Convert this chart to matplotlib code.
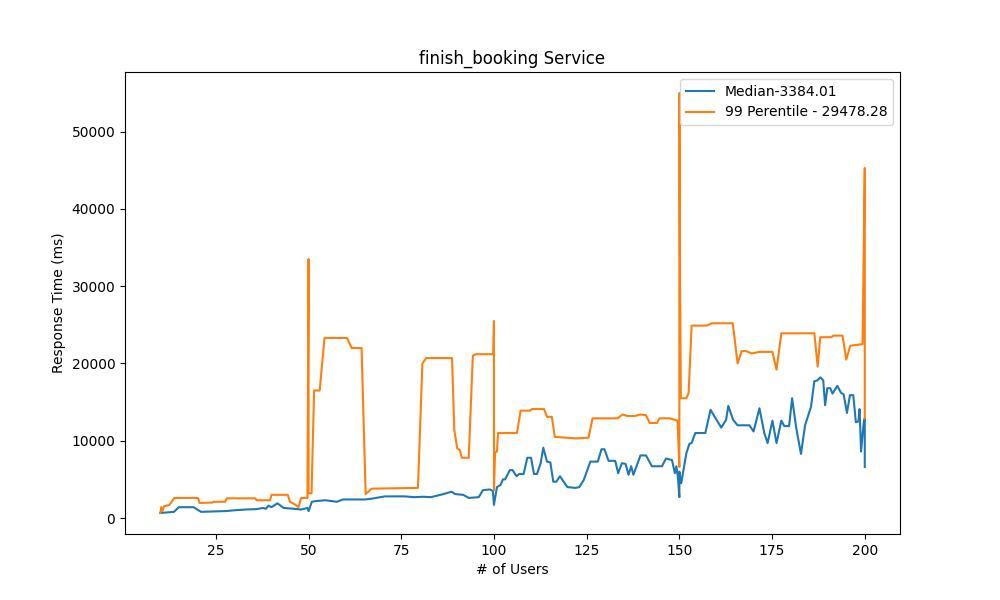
import matplotlib
matplotlib.use('Agg')
import matplotlib.pyplot as plt

# median response time samples (users, ms)
median_x = [10, 13.7, 15, 19, 21, 24, 27.7, 30, 33, 36, 37.6, 38.5, 39.2, 40,
            41.6, 43.3, 46, 48, 49.7, 50, 50.9, 52, 54.5, 56, 57.6, 59.3, 65.2,
            67, 70.6, 76, 78.4, 81, 83, 85.6, 88.6, 89.5, 91.7, 93.2, 95.9, 97,
            98.9, 99.7, 100, 100.8, 101.8, 102.4, 103, 104.3, 105, 106.1, 106.8,
            108, 109, 110, 110.8, 111.6, 112.6, 113.3, 114.3, 115.2, 116, 116.8,
            117.8, 119.8, 122, 123, 124.2, 126, 128, 129, 129.8, 130.9, 132.7,
            133.5, 134.5, 135.5, 136.3, 137, 137.6, 139.5, 141, 142.6, 145.3,
            146.4, 148, 148.8, 149.2, 149.6, 150, 150, 150.5, 151.9, 152.7,
            153.3, 154.3, 157, 158.4, 161.3, 162.6, 163.2, 164.5, 165.7, 168.9,
            170, 171.6, 172.9, 173.8, 175.1, 176.2, 177.5, 178.3, 179.6, 180.4,
            181.5, 182.8, 183.9, 185.5, 186.4, 187.2, 188, 188.8, 189.3, 189.9,
            190.7, 191.3, 192.6, 193.6, 194.3, 195.2, 196, 196.9, 197.6, 198.3,
            198.6, 199, 199.7, 200, 200]
median_y = [650, 800, 1400, 1400, 800, 850, 900, 1000, 1100, 1150, 1300, 1200,
            1600, 1400, 1900, 1300, 1200, 1100, 1300, 900, 2100, 2200, 2300,
            2200, 2100, 2400, 2400, 2500, 2800, 2800, 2700, 2750, 2700, 3000,
            3400, 3100, 3000, 2600, 2700, 3600, 3700, 3500, 1700, 4000, 4300,
            5000, 5000, 6200, 6200, 5400, 5700, 5700, 7800, 7800, 5700, 5700,
            7100, 9100, 7300, 7200, 4700, 4700, 5400, 4000, 3900, 4000, 4900,
            7300, 7300, 8900, 8900, 7400, 7400, 5800, 7100, 7000, 5600, 6700,
            5600, 8100, 8100, 6700, 6700, 7700, 7500, 5800, 6700, 5300, 2700,
            6000, 4500, 8400, 9600, 9700, 11000, 11000, 14000, 11700, 12700,
            14500, 12700, 12000, 12000, 11200, 14200, 11000, 9700, 12600, 9700,
            12600, 11900, 11900, 15500, 11700, 8300, 12000, 14400, 17700, 17800,
            18200, 17800, 14600, 16800, 16800, 16100, 17100, 16200, 16000, 13600,
            15900, 15900, 12400, 12500, 14100, 8600, 12300, 12900, 6600]

# 99th percentile response time samples (users, ms)
p99_x = [10, 10.3, 10.6, 11, 12.5, 13.8, 20.2, 20.6, 24, 24.4, 27.5, 28, 35.6,
         36, 39.6, 40, 44.4, 45, 46.5, 47.3, 48, 49.7, 50, 50, 50.8, 51.5, 53,
         54.3, 60.4, 61.6, 64.3, 65.4, 67, 79.5, 80.7, 81.7, 88.7, 89.3, 90.1,
         90.8, 91.3, 93.2, 94.3, 95.1, 99.8, 100, 100, 100.3, 100.8, 101.1,
         106.2, 107.2, 109.7, 110.2, 113.5, 114.3, 115.6, 116.4, 122.3, 125.5,
         126.6, 133.3, 134.7, 136, 138, 139.5, 141, 142, 144, 144.6, 147.5,
         149.5, 150, 150, 150.2, 150.4, 151.9, 152.5, 153.3, 157.4, 158.7,
         164.4, 165.7, 166.8, 168, 169.5, 171.6, 175.1, 176.2, 177.5, 186.4,
         187.3, 188, 191, 191.5, 194, 195, 196.1, 199.4, 200, 200, 200]
p99_y = [650, 1400, 900, 1500, 1700, 2600, 2600, 1950, 2000, 2100, 2100, 2550,
         2550, 2300, 2300, 3000, 3000, 2100, 1700, 1400, 2600, 2600, 33500,
         3200, 3200, 16500, 16500, 23300, 23300, 22000, 22000, 3100, 3800,
         3900, 20000, 20700, 20700, 11400, 9000, 8800, 7800, 7800, 21000, 21200,
         21200, 25500, 3600, 8500, 8600, 11000, 11000, 13900, 13900, 14100,
         14100, 13100, 13100, 10500, 10300, 10400, 12900, 12900, 13400, 13200,
         13200, 13400, 13300, 12300, 12300, 12900, 12900, 12600, 6600, 55000,
         30000, 15500, 15500, 16200, 24900, 24900, 25200, 25200, 20000, 21600,
         21600, 21300, 21500, 21500, 19200, 23900, 23900, 19600, 23400, 23400,
         23600, 23600, 20500, 22300, 22500, 45300, 28200, 12900]

fig, ax = plt.subplots(figsize=(10, 6), dpi=100)
ax.plot(median_x, median_y, label='Median-3384.01')
ax.plot(p99_x, p99_y, label='99 Perentile - 29478.28')
ax.set_title('finish_booking Service')
ax.set_xlabel('# of Users')
ax.set_ylabel('Response Time (ms)')
ax.legend(loc='upper right')
plt.savefig('out.png')
